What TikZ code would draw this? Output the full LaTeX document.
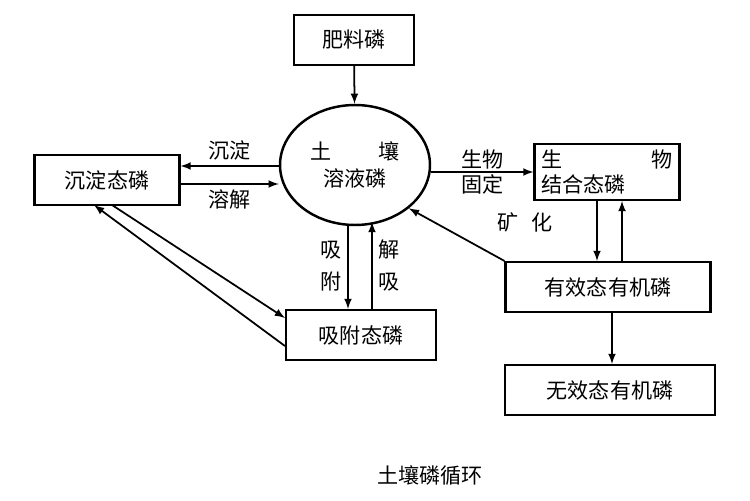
\documentclass[tikz,border=0pt]{standalone}
\usepackage{fontspec}
\setmainfont{Noto Sans CJK SC}
\usetikzlibrary{positioning,shapes,arrows}
\tikzstyle{int}=[draw, line width=1.2pt, minimum height=1cm, font=\fontsize{12}{14}\selectfont]
\tikzstyle{lab}=[font=\fontsize{12}{14}\selectfont, inner sep=1pt]
\tikzstyle{flow}=[->, line width=1pt]
\begin{document}
\begin{tikzpicture}[x=0.02cm,y=-0.02cm,>=latex]
\useasboundingbox (0,0) rectangle (750,500);

\node[int, minimum width=2.4cm] at (354,40) (fert) {肥料磷};
\node[draw, line width=1.4pt, ellipse, minimum width=3cm, minimum height=2.4cm, align=center, font=\fontsize{12}{15}\selectfont] at (355,165) (sol) {土\hspace{2.2em}壤\\溶液磷};
\node[int, minimum width=2.9cm] at (107,180) (prec) {沉淀态磷};
\node[int, minimum width=2.9cm, minimum height=1.05cm, align=left] at (607,172) (bio) {生\hspace{4.2em}物\\结合态磷};
\node[int, minimum width=4.1cm] at (608,287) (avail) {有效态有机磷};
\node[int, minimum width=4.2cm] at (610,390) (unav) {无效态有机磷};
\node[int, minimum width=3cm] at (361,335) (ads) {吸附态磷};
\node[lab] at (430,475) (title) {土壤磷循环};

\draw[flow] (fert) -- (sol);
% sol <-> precipitate
\draw[flow] (sol.west |- 0,166) -- node[lab, above=2pt] (chen) {沉淀} (prec.east |- 0,166);
\draw[flow] (prec.east |- 0,184) -- node[lab, below=2pt] (rong) {溶解} (sol.west |- 0,184);
% sol -> bio
\draw[flow] (sol.east |- 0,172) -- node[lab, align=center] (gd) {生物\\固定} (bio.west |- 0,172);
\draw[flow] (avail.north west) -- (sol.south east);
\node[lab] at (525,222) (kh) {矿\hspace{0.6em}化};
% bio <-> avail
\draw[flow] (bio.south -| 597,0) -- (avail.north -| 597,0);
\draw[flow] (avail.north -| 622,0) -- (bio.south -| 622,0);
\draw[flow] (avail.south -| 612,0) -- (unav.north -| 612,0);
% sol <-> ads
\coordinate (s1) at (348,224);
\coordinate (s2) at (372,222);
\draw[flow] (s1) -- node[lab, left=2pt, align=center] (xf) {吸\\[4pt]附} (ads.north -| s1);
\draw[flow] (ads.north -| s2) -- node[lab, right=2pt, align=center] (jx) {解\\[4pt]吸} (s2);
% prec <-> ads
\coordinate (p1) at (112,205);
\coordinate (p2) at (94,205);
\draw[flow] (p1) -- (ads.west |- 0,318);
\draw[flow] (ads.west |- 0,346) -- (p2);
\end{tikzpicture}
\end{document}
